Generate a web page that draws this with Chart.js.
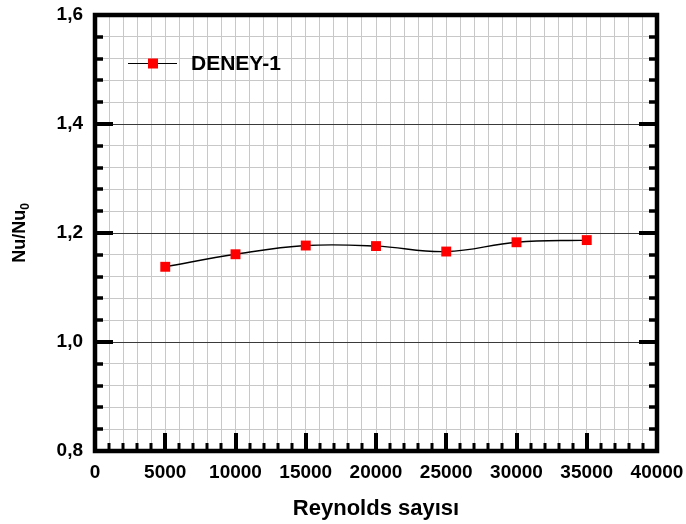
<!DOCTYPE html>
<html>
<head>
<meta charset="utf-8">
<script src="https://cdn.jsdelivr.net/npm/chart.js@4/dist/chart.umd.min.js"></script>
<style>
  html, body { margin: 0; padding: 0; background: #fff; }
  #wrap { width: 686px; height: 524px; }
</style>
</head>
<body>
<div id="wrap"><canvas id="chart"></canvas></div>
<script>
// values
const reynolds = [5000, 10000, 15000, 20000, 25000, 30000, 35000];
const deney1 = [1.138, 1.161, 1.177, 1.176, 1.166, 1.183, 1.187];
const seriesName = 'DENEY-1';
const xTitle = 'Reynolds sayısı';

const FONT = '"Liberation Sans", Arial, sans-serif';

function isMultiple(v, step) {
    const r = v / step;
    return Math.abs(r - Math.round(r)) < 1e-6;
}

// frame, inward ticks, legend and y title
const framePlugin = {
    id: 'frame',
    afterDraw(chart) {
        const ctx = chart.ctx;
        const a = chart.chartArea;
        const xs = chart.scales.x, ys = chart.scales.y;
        ctx.save();
        ctx.strokeStyle = '#000';
        ctx.lineCap = 'butt';

        // y ticks, left and right
        for (let i = 1; i < 20; i++) {
            const v = 0.8 + i * 0.04;
            const y = Math.round(ys.getPixelForValue(v));
            const major = isMultiple(v, 0.2);
            const len = major ? 18 : 8;
            ctx.lineWidth = major ? 4 : 3.5;
            ctx.beginPath();
            ctx.moveTo(a.left, y); ctx.lineTo(a.left + len, y);
            ctx.moveTo(a.right, y); ctx.lineTo(a.right - len, y);
            ctx.stroke();
        }
        // x ticks, bottom only
        for (let v = 1000; v < 40000; v += 1000) {
            const x = Math.round(xs.getPixelForValue(v));
            const major = v % 5000 === 0;
            ctx.lineWidth = major ? 4 : 3;
            ctx.beginPath();
            ctx.moveTo(x, a.bottom);
            ctx.lineTo(x, a.bottom - (major ? 18 : 8));
            ctx.stroke();
        }
        // thick frame
        ctx.lineWidth = 4.5;
        ctx.strokeRect(a.left, a.top, a.right - a.left, a.bottom - a.top);

        // legend inside the plot
        const ds = chart.data.datasets[0];
        ctx.lineWidth = 1.2;
        ctx.beginPath();
        ctx.moveTo(128, 63.5); ctx.lineTo(177, 63.5);
        ctx.stroke();
        ctx.fillStyle = ds.pointBackgroundColor;
        ctx.fillRect(148, 58.5, 10, 10);
        ctx.fillStyle = '#000';
        ctx.font = 'bold 21px ' + FONT;
        ctx.textBaseline = 'middle';
        ctx.textAlign = 'left';
        ctx.fillText(ds.label, 191, 64);

        // y title with subscript
        ctx.translate(19, (a.top + a.bottom) / 2);
        ctx.rotate(-Math.PI / 2);
        const main = 'Nu/Nu';
        ctx.font = 'bold 18px ' + FONT;
        const w1 = ctx.measureText(main).width;
        ctx.font = 'bold 12px ' + FONT;
        const w2 = ctx.measureText('0').width;
        const x0 = -(w1 + w2) / 2;
        ctx.font = 'bold 18px ' + FONT;
        ctx.textBaseline = 'alphabetic';
        ctx.fillText(main, x0, 6);
        ctx.font = 'bold 12px ' + FONT;
        ctx.fillText('0', x0 + w1, 10);
        ctx.restore();
    }
};

const chart = new Chart(document.getElementById('chart').getContext('2d'), {
    type: 'line',
    data: {
        datasets: [{
            label: seriesName,
            data: reynolds.map((r, i) => ({ x: r, y: deney1[i] })),
            borderColor: '#000',
            borderWidth: 1.4,
            tension: 0.4,
            pointStyle: 'rect',
            pointRadius: 7,
            pointHoverRadius: 7,
            pointBackgroundColor: '#ff0000',
            pointBorderColor: '#ff0000',
            pointBorderWidth: 0
        }]
    },
    options: {
        responsive: true,
        maintainAspectRatio: false,
        animation: false,
        events: [],
        layout: { padding: { left: 0, top: 15, right: 29, bottom: 0 } },
        plugins: {
            legend: { display: false },
            tooltip: { enabled: false }
        },
        scales: {
            x: {
                type: 'linear',
                min: 0,
                max: 40000,
                afterFit: (s) => { s.height = 73; s.paddingLeft = 0; s.paddingRight = 0; },
                border: { display: false },
                grid: {
                    drawTicks: false,
                    color: '#c8c8c8',
                    lineWidth: 1
                },
                ticks: {
                    stepSize: 1000,
                    autoSkip: false,
                    maxRotation: 0,
                    padding: 10,
                    color: '#000',
                    font: { family: FONT, size: 19, weight: 'bold' },
                    callback: (v) => (v % 5000 === 0 ? String(v) : '')
                },
                title: {
                    display: true,
                    text: xTitle,
                    color: '#000',
                    font: { family: FONT, size: 22, weight: 'bold' },
                    padding: { top: 0, bottom: 2 }
                }
            },
            y: {
                min: 0.8,
                max: 1.6,
                afterFit: (s) => { s.width = 95; s.paddingTop = 0; s.paddingBottom = 0; },
                border: { display: false },
                grid: {
                    drawTicks: false,
                    color: (c) => (isMultiple(c.tick.value, 0.2) ? '#3a3a3a' : '#c8c8c8'),
                    lineWidth: 1
                },
                ticks: {
                    stepSize: 0.04,
                    autoSkip: false,
                    padding: 12,
                    color: '#000',
                    font: { family: FONT, size: 19, weight: 'bold' },
                    callback: (v) => (isMultiple(v, 0.2) ? v.toFixed(1).replace('.', ',') : '')
                }
            }
        }
    },
    plugins: [framePlugin]
});
</script>
</body>
</html>
